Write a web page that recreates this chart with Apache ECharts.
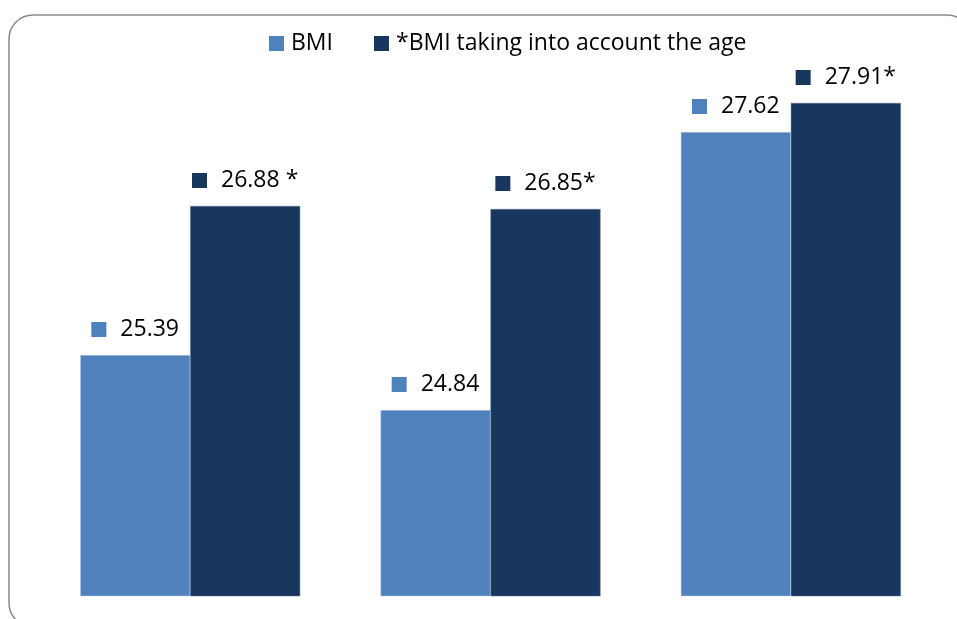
<!DOCTYPE html>
<html>
<head>
<meta charset="utf-8">
<script src="https://cdn.jsdelivr.net/npm/echarts@6/dist/echarts.min.js"></script>
<style>
html,body{margin:0;padding:0;background:#fff;}
#main{width:957px;height:619px;}
</style>
</head>
<body>
<div id="main"></div>
<script>
var categories = ['Group 1', 'Group 2', 'Group 3'];
var bmiValues = [25.39, 24.84, 27.62];
var bmiAgeValues = [26.88, 26.85, 27.91];
var bmiLabels = ['25.39', '24.84', '27.62'];
var bmiAgeLabels = ['26.88 *', '26.85*', '27.91*'];
var seriesNames = ['BMI', '*BMI taking into account the age'];

var FONT = 'Open Sans';
var C1 = '#4F81BD', C2 = '#17375E';

function makeLabel(color, texts) {
  return {
    show: true,
    position: 'top',
    distance: 14,
    formatter: function (p) { return '{sq|}{t|' + texts[p.dataIndex] + '}'; },
    rich: {
      sq: { width: 15, height: 15, backgroundColor: color },
      t: { fontFamily: FONT, fontSize: 23, color: '#000', padding: [0, 0, 0, 14] }
    }
  };
}

var chart = echarts.init(document.getElementById('main'));
chart.setOption({
  animation: false,
  graphic: [{
    type: 'rect',
    shape: { x: 9, y: 15, width: 962, height: 612, r: 24 },
    style: { fill: 'none', stroke: '#8a8a8a', lineWidth: 1.5 },
    z: -1
  }],
  legend: {
    left: 264, top: 27,
    itemWidth: 15, itemHeight: 15, itemGap: 41,
    icon: 'rect',
    itemStyle: { borderWidth: 0 },
    textStyle: { fontFamily: FONT, fontSize: 23, color: '#000', padding: [0, 0, 0, 2] },
    data: seriesNames
  },
  grid: { left: 40, right: 16, top: 44, bottom: 23 },
  xAxis: {
    type: 'category', data: categories,
    axisLine: { show: false }, axisTick: { show: false }, axisLabel: { show: false }
  },
  yAxis: {
    type: 'value', min: 22.98, max: 28.5, show: false,
    splitLine: { show: false }
  },
  series: [
    {
      name: seriesNames[0], type: 'bar', data: bmiValues, barWidth: 110, barGap: '0%',
      itemStyle: { color: C1, borderColor: '#c5d3e6', borderWidth: 0.5 },
      label: makeLabel(C1, bmiLabels)
    },
    {
      name: seriesNames[1], type: 'bar', data: bmiAgeValues, barWidth: 110,
      itemStyle: { color: C2, borderColor: '#5f7595', borderWidth: 0.5 },
      label: makeLabel(C2, bmiAgeLabels)
    }
  ]
});
</script>
</body>
</html>
